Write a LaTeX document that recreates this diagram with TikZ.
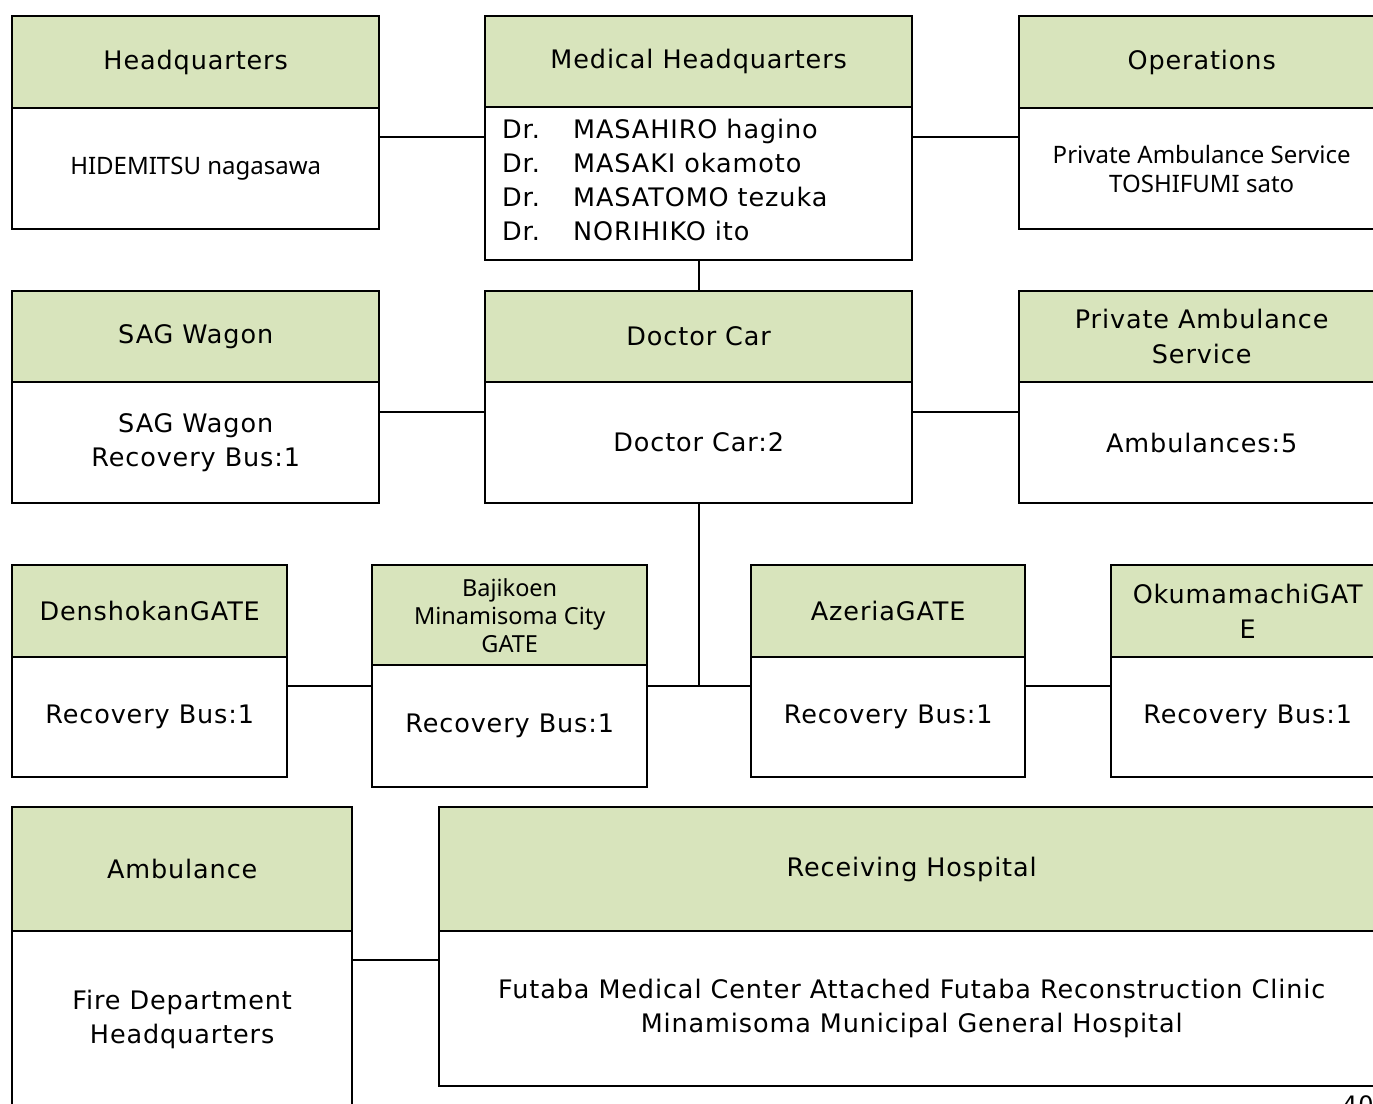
\documentclass[tikz,border=0pt]{standalone}
\usepackage{fontspec}
\setmainfont{DejaVu Sans}[LetterSpace=3.5]
\newfontfamily\narrowfont{Noto Sans}
\definecolor{hdrgreen}{RGB}{216,228,188}
\begin{document}
\begin{tikzpicture}[x=1pt,y=-1pt,
  boxline/.style={draw=black,line width=2.4pt,rectangle,inner sep=0pt,anchor=north west,align=center,
    font=\fontsize{25.5}{34.5}\selectfont},
  hdr/.style={boxline,fill=hdrgreen},
  bdy/.style={boxline,fill=white},
  nar/.style={font=\narrowfont\fontsize{24}{29}\selectfont},
  conn/.style={draw=black,line width=1.8pt}]
\useasboundingbox (0,0) rectangle (1373,1103);
\fill[white] (0,0) rectangle (1373,1103);
% Row 1
\node[hdr,minimum width=367,minimum height=92] (hq-h) at (11,15) {Headquarters};
\node[bdy,minimum width=367,minimum height=121,nar] (hq-b) at (11,107) {HIDEMITSU nagasawa};
\node[hdr,minimum width=427,minimum height=91] (mhq-h) at (484,15) {Medical Headquarters};
\node[bdy,minimum width=427,minimum height=153] (mhq-b) at (484,106) {};
\node[anchor=west,align=left,inner sep=0pt,font=\fontsize{25.5}{33.7}\selectfont] (mhq-t) at (502,180)
  {\makebox[71pt][l]{Dr.}MASAHIRO hagino\\
   \makebox[71pt][l]{Dr.}MASAKI okamoto\\
   \makebox[71pt][l]{Dr.}MASATOMO tezuka\\
   \makebox[71pt][l]{Dr.}NORIHIKO ito};
\node[hdr,minimum width=365,minimum height=92] (op-h) at (1018,15) {Operations};
\node[bdy,minimum width=365,minimum height=121,nar] (op-b) at (1018,107) {Private Ambulance Service\\TOSHIFUMI sato};
% Row 2
\node[hdr,minimum width=367,minimum height=91] (sag-h) at (11,290) {SAG Wagon};
\node[bdy,minimum width=367,minimum height=121] (sag-b) at (11,381) {SAG Wagon\\Recovery Bus:1};
\node[hdr,minimum width=427,minimum height=91] (dc-h) at (484,290) {Doctor Car};
\node[bdy,minimum width=427,minimum height=121] (dc-b) at (484,381) {Doctor Car:2};
\node[hdr,minimum width=365,minimum height=91] (pas-h) at (1018,290) {Private Ambulance\\Service};
\node[bdy,minimum width=365,minimum height=121] (pas-b) at (1018,381) {Ambulances:5};
% Row 3
\node[hdr,minimum width=275,minimum height=92] (den-h) at (11,564) {DenshokanGATE};
\node[bdy,minimum width=275,minimum height=120] (den-b) at (11,656) {Recovery Bus:1};
\node[hdr,minimum width=275,minimum height=100,font=\narrowfont\fontsize{23.5}{28}\selectfont] (baj-h) at (371,564) {Bajikoen\\Minamisoma City\\GATE};
\node[bdy,minimum width=275,minimum height=122] (baj-b) at (371,664) {Recovery Bus:1};
\node[hdr,minimum width=274,minimum height=92] (az-h) at (750,564) {AzeriaGATE};
\node[bdy,minimum width=274,minimum height=120] (az-b) at (750,656) {Recovery Bus:1};
\node[hdr,minimum width=273,minimum height=92] (ok-h) at (1110,564) {OkumamachiGAT\\E};
\node[bdy,minimum width=273,minimum height=120] (ok-b) at (1110,656) {Recovery Bus:1};
% Row 4
\node[hdr,minimum width=340,minimum height=124] (amb-h) at (11,806) {Ambulance};
\node[bdy,minimum width=340,minimum height=177] (amb-b) at (11,930) {Fire Department\\Headquarters};
\node[hdr,minimum width=945,minimum height=124] (rh-h) at (438,806) {Receiving Hospital};
\node[bdy,minimum width=945,minimum height=155] (rh-b) at (438,930) {Futaba Medical Center Attached Futaba Reconstruction Clinic\\Minamisoma Municipal General Hospital};
% page number
\node[anchor=north west,inner sep=0pt,font=\fontsize{24}{28}\selectfont] (pg) at (1342,1095) {40};
% Connectors
\draw[conn] (hq-b.east |- 0,137) -- (mhq-b.west |- 0,137);
\draw[conn] (mhq-b.east |- 0,137) -- (op-b.west |- 0,137);
\draw[conn] (mhq-b.south) -- (dc-h.north);
\draw[conn] (sag-b.east |- 0,412) -- (dc-b.west |- 0,412);
\draw[conn] (dc-b.east |- 0,412) -- (pas-b.west |- 0,412);
\coordinate (jn) at (dc-b.south |- 0,686);
\draw[conn] (dc-b.south) -- (jn);
\draw[conn] (baj-b.east |- jn) -- (az-b.west |- jn);
\draw[conn] (den-b.east |- jn) -- (baj-b.west |- jn);
\draw[conn] (az-b.east |- jn) -- (ok-b.west |- jn);
\draw[conn] (amb-b.east |- 0,960) -- (rh-b.west |- 0,960);
\end{tikzpicture}
\end{document}
